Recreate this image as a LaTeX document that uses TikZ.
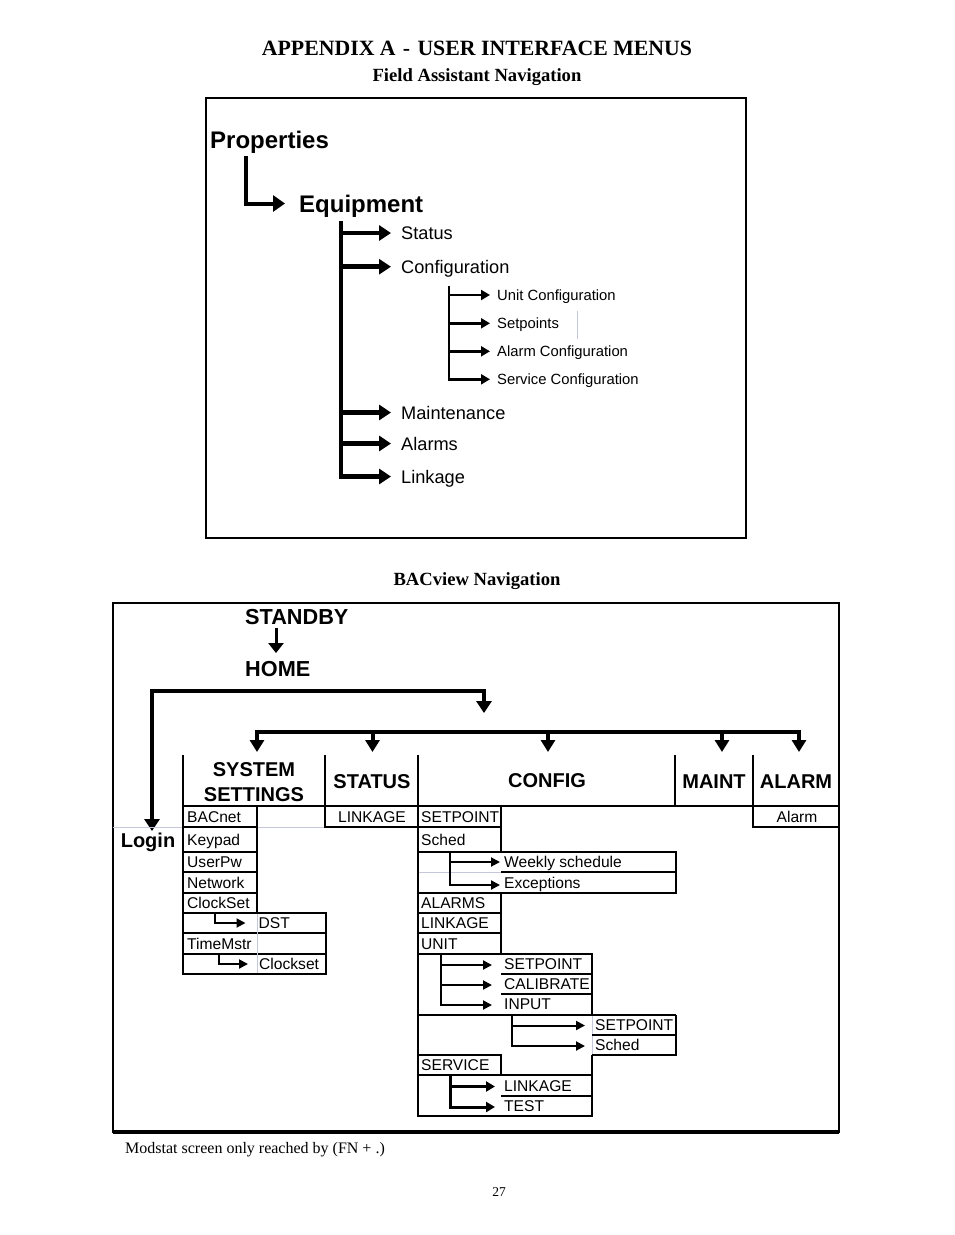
\documentclass[tikz,border=0pt]{standalone}
\usepackage{fontspec}
\setmainfont{Liberation Serif}
\setsansfont{Liberation Sans}
\usetikzlibrary{arrows.meta}
\definecolor{faint}{RGB}{196,200,218}
\begin{document}
\begin{tikzpicture}[x=1pt,y=-1pt,
  lbl/.style={anchor=west,inner sep=0pt,text depth=0pt},
  ttl/.style={anchor=base,inner sep=0pt,font=\rmfamily\bfseries\fontsize{21.8}{24}\selectfont},
  subttl/.style={anchor=base,inner sep=0pt,font=\rmfamily\bfseries\fontsize{18.6}{20}\selectfont},
  big/.style={lbl,text height=17.2pt,font=\sffamily\bfseries\fontsize{24}{26}\selectfont},
  mid/.style={lbl,text height=13pt,font=\sffamily\fontsize{18.2}{20}\selectfont},
  sml/.style={lbl,text height=10.6pt,font=\sffamily\fontsize{14.8}{16}\selectfont},
  hdr/.style={inner sep=0pt,text depth=0pt,text height=14.3pt,font=\sffamily\bfseries\fontsize{20}{22}\selectfont},
  nav/.style={lbl,text height=15.5pt,font=\sffamily\bfseries\fontsize{21.7}{24}\selectfont},
  cell/.style={lbl,text height=11.2pt,font=\sffamily\fontsize{15.6}{17}\selectfont},
  marr/.style={line width=4.5pt,-{Triangle[length=12pt,width=15pt]}},
  sarr/.style={line width=2.6pt,-{Triangle[length=9pt,width=10pt]}},
  tarr/.style={line width=2pt,-{Triangle[length=9pt,width=9pt]}},
  frame/.style={line width=2pt},
  tl/.style={line width=1.3pt},
  th/.style={line width=2.2pt},
  fl/.style={line width=0.8pt,faint}
]
\fill[white] (0,0) rectangle (954,1235);
\useasboundingbox (0,0) rectangle (954,1235);

% ---------- titles ----------
\node[ttl] (title) at (477,55) {APPENDIX A\,\,-\,\,USER INTERFACE MENUS};
\node[subttl] (fan) at (477,81) {Field Assistant Navigation};

% ---------- Field Assistant box ----------
\draw[frame] (206,98) rectangle (746,538);
\node[big] (props) at (210,139.5) {Properties};
\node[big] (equip) at (299,203.5) {Equipment};
\coordinate (pa) at (246,156);
\draw[line width=4pt,-{Triangle[length=12pt,width=16pt]}] (pa) |- ([xshift=-14pt]equip.west);

\coordinate (trA) at (341,221);
\coordinate (trB) at (341,478.5);
\draw[line width=4.5pt] (trA) -- (trB);
\node[mid] (status) at (401,233) {Status};
\node[mid] (config) at (401,266.7) {Configuration};
\node[mid] (maint) at (401,412.5) {Maintenance};
\node[mid] (alarms) at (401,443.5) {Alarms};
\node[mid] (linkage) at (401,476.5) {Linkage};
\foreach \n in {status,config,maint,alarms,linkage}
  \draw[marr] (trA |- \n.west) -- ([xshift=-10pt]\n.west);

\coordinate (sA) at (449,286);
\coordinate (sB) at (449,380.5);
\draw[line width=2.6pt] (sA) -- (sB);
\node[sml] (unitcfg) at (497,295) {Unit Configuration};
\node[sml] (setpts) at (497,323.3) {Setpoints};
\node[sml] (alarmcfg) at (497,351.3) {Alarm Configuration};
\node[sml] (servcfg) at (497,379.3) {Service Configuration};
\foreach \n in {unitcfg,setpts,alarmcfg,servcfg}
  \draw[sarr] (sA |- \n.west) -- ([xshift=-7pt]\n.west);
\draw[line width=0.6pt,faint] (577,311) -- (577,339);

% ---------- BACview ----------
\node[subttl] (bac) at (477,585) {BACview Navigation};
\draw[line width=2.5pt] (113,603) rectangle (839,1132);
\draw[line width=3.5pt] (113,1132) -- (839,1132);

\node[nav] (standby) at (245,617) {STANDBY};
\node[nav] (home) at (245,669) {HOME};
\coordinate (sx) at (276,0);
\draw[line width=3pt,-{Triangle[length=10pt,width=15pt]},shorten <=3pt,shorten >=8pt]
  (standby.south -| sx) -- (home.north -| sx);

\node[hdr] (login) at (148,840) {Login};
\coordinate (lg) at (152,831);
\coordinate (hm) at (484,713);
\draw[line width=4.5pt,{Triangle[length=12pt,width=15pt]}-{Triangle[length=12pt,width=15pt]}]
  (lg) -- (152,691) -- (484,691) -- (hm);

% second bar
\coordinate (b1) at (257,752);
\coordinate (b5) at (799,752);
\draw[line width=4pt,{Triangle[length=12pt,width=14pt]}-{Triangle[length=12pt,width=14pt]}]
  (b1) -- (257,731.5) -- (799,731.5) -- (b5);
\foreach \x in {372.5,548,722}
  \draw[line width=4pt,-{Triangle[length=12pt,width=14pt]}] (\x,731.5) -- (\x,752);

% header
\foreach \x in {183,325,418,675,753}
  \draw[th] (\x,755) -- (\x,806);
\draw[th] (183,806) -- (839,806);
\node[hdr] (sys1) at (254,769) {SYSTEM};
\node[hdr] (sys2) at (254,794) {SETTINGS};
\node[hdr] (hstat) at (372,781) {STATUS};
\node[hdr] (hconf) at (547,780) {CONFIG};
\node[hdr] (hmaint) at (714,781) {MAINT};
\node[hdr] (halarm) at (796,781) {ALARM};

% faint rule near Login
\draw[fl] (113,827) -- (183,827);
\draw[fl] (257,827) -- (325,827);

% system settings column
\draw[tl] (183,806) rectangle (257,827);
\draw[tl] (183,827) rectangle (257,852);
\draw[tl] (183,852) rectangle (257,872);
\draw[th] (183,872) -- (257,872);
\draw[tl] (183,872) rectangle (257,893);
\draw[tl] (183,893) rectangle (257,913);
\draw[tl] (183,913) rectangle (326,933);
\draw[tl] (183,933) rectangle (326,954);
\draw[tl] (183,954) rectangle (326,974);
\draw[fl] (257,913.7) -- (257,973.3);
\node[cell] (bacnet) at (187,816.5) {BACnet};
\node[cell] (keypad) at (187,840) {Keypad};
\node[cell] (userpw) at (187,862) {UserPw};
\node[cell] (network) at (187,883) {Network};
\node[cell] (clockset) at (187,903) {ClockSet};
\node[cell] (dst) at (258.5,923) {DST};
\node[cell] (timemstr) at (187,943.5) {TimeMstr};
\node[cell] (clk) at (259,964) {Clockset};
\draw[tarr] (clockset.west -| 215,0) ++(0,10) |- ([xshift=-13pt]dst.west);
\draw[tarr] (timemstr.west -| 219,0) ++(0,10.5) |- ([xshift=-11pt]clk.west);

% status column
\draw[tl] (325,806) rectangle (418,827);
\node[cell,anchor=center] (slink) at (372,816.5) {LINKAGE};

% config column
\draw[tl] (418,806) rectangle (501,827);
\draw[tl] (418,827) rectangle (501,852);
\draw[tl] (418,852) rectangle (676,893);
\draw[th] (501,872) -- (676,872);
\draw[fl] (418.7,872) -- (501,872);
\draw[tl] (418,893) rectangle (501,913);
\draw[tl] (418,913) rectangle (501,933);
\draw[tl] (418,933) rectangle (501,954);
\draw[tl] (418,954) rectangle (592,1015);
\draw[tl] (501,974) -- (592,974);
\draw[tl] (501,994) -- (592,994);
\draw[tl] (418,1015) -- (418,1075) -- (592,1075) -- (592,1055);
\draw[fl] (592,1016) -- (592,1055);
\draw[line width=2.6pt] (418,1015) -- (676,1015);
\draw[tl] (676,1015) -- (676,1055) -- (592,1055);
\draw[tl] (592,1035) -- (676,1035);
\draw[tl] (418,1055) rectangle (501,1075);
\draw[tl] (418,1075) rectangle (592,1116);
\draw[th] (501,1096) -- (592,1096);

\node[cell] (csp) at (421,816.5) {SETPOINT};
\node[cell] (csched) at (421,840) {Sched};
\node[cell] (weekly) at (504,862) {Weekly schedule};
\node[cell] (exc) at (504,883) {Exceptions};
\node[cell] (calarms) at (421,903) {ALARMS};
\node[cell] (clink) at (421,923) {LINKAGE};
\node[cell] (cunit) at (421,943.5) {UNIT};
\node[cell] (usp) at (504,964) {SETPOINT};
\node[cell] (ucal) at (504,984) {CALIBRATE};
\node[cell] (uinp) at (504,1004) {INPUT};
\node[cell] (rsp) at (595,1024.5) {SETPOINT};
\node[cell] (rsch) at (595,1045) {Sched};
\node[cell] (serv) at (421,1065) {SERVICE};
\node[cell] (slnk) at (504,1085.5) {LINKAGE};
\node[cell] (stest) at (504,1106) {TEST};

\coordinate (sct) at (450,852);
\draw[tarr] (sct) |- ([xshift=-4pt]weekly.west);
\draw[tarr] (sct) |- ([xshift=-4pt,yshift=-2pt]exc.west);
\coordinate (ut) at (441,954);
\foreach \n in {usp,ucal,uinp}
  \draw[tarr] (ut) |- ([xshift=-12pt,yshift=-1pt]\n.west);
\coordinate (rt) at (512,1015);
\foreach \n in {rsp,rsch}
  \draw[tarr] (rt) |- ([xshift=-10pt,yshift=-1pt]\n.west);
\coordinate (svt) at (450,1075);
\foreach \n in {slnk,stest}
  \draw[line width=3pt,-{Triangle[length=9pt,width=10pt]}] (svt) |- ([xshift=-9pt,yshift=-1pt]\n.west);

% alarm column
\draw[tl] (753,806) rectangle (839,827);
\node[cell,anchor=center] (alrm) at (797,816.5) {Alarm};

% footer
\node[anchor=base west,inner sep=0pt,font=\rmfamily\fontsize{16}{18}\selectfont] (foot) at (125,1153) {Modstat screen only reached by (FN + .)};
\node[anchor=base,inner sep=0pt,font=\rmfamily\fontsize{13.5}{15}\selectfont] (pg) at (499,1196) {27};
\end{tikzpicture}
\end{document}
